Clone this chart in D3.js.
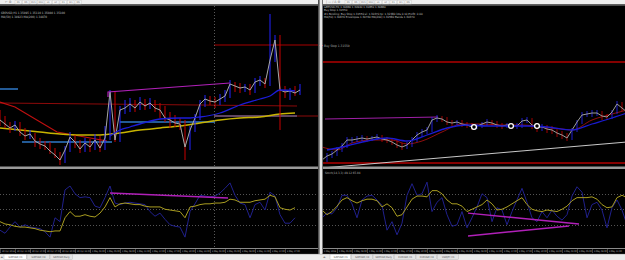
<!DOCTYPE html>
<html>
<head>
<meta charset="utf-8">
<script src="https://cdn.jsdelivr.net/npm/d3@7"></script>
<style>
  body { margin: 0; background: #000; }
  svg { display: block; }
  text { font-family: "DejaVu Sans Condensed", "Liberation Sans Narrow", sans-serif; }
</style>
</head>
<body>
<script>
// prices are in points (1 point = 0.0001)
const leftClose = [13480,13476,13472,13475,13468,13464,13466,13459,13456,13454,13449,13445,13440,13450,13463,13458,13451,13457,13453,13460,
  13452,13462,13508,13460,13490,13492,13496,13492,13498,13494,13497,13492,13490,13482,13480,13477,13476,13453,13470,13482,
  13496,13501,13499,13498,13501,13504,13516,13514,13512,13513,13510,13518,13520,13516,13540,13560,13510,13508,13509,13507,13510];
const leftHigh = [13490,13484,13478,13479,13478,13472,13470,13467,13462,13459,13458,13452,13448,13454,13468,13465,13460,13462,13461,13466,
  13464,13474,13510,13508,13494,13500,13502,13500,13503,13501,13502,13500,13497,13494,13488,13485,13482,13480,13474,13486,
  13500,13505,13504,13503,13506,13510,13520,13518,13517,13516,13516,13522,13524,13522,13586,13565,13565,13514,13512,13514,13516];
const leftLow = [13474,13472,13467,13469,13464,13460,13461,13453,13451,13450,13446,13442,13435,13437,13448,13452,13447,13448,13448,13450,
  13448,13450,13460,13458,13458,13486,13488,13488,13490,13490,13491,13488,13482,13478,13472,13473,13470,13440,13450,13468,
  13480,13493,13495,13492,13495,13498,13502,13508,13507,13508,13505,13507,13514,13512,13514,13538,13470,13502,13500,13504,13505];

const leftSlowMaBars = [0,4,8,12,16,20,24,28,32,36,40,44,48,52,56,59];
const leftSlowMa = [13472,13470,13468,13466,13465,13465,13467,13470,13472,13474,13477,13480,13482,13483,13486,13487];
const leftFastMaBars = [22,24,26,28,32,36,38,40,44,48,52,54,56,59];
const leftFastMa = [13464,13470,13473,13476,13481,13482,13482,13483,13487,13495,13501,13504,13510,13509];

// chart objects: [bar, price] points
const leftRedTrend = [[0,13498],[3,13493],[11.4,13468],[21.4,13459]];
const leftMaroonLine = [[0,13497],[59.4,13494]];
const leftRedLevel = [[42.8,13555],[64,13555]];
const leftMagentaLine = [[21.6,13503],[21.6,13508],[46,13517]];
const leftBlueLevels = [[[0,13511],[3.6,13511]], [[4.4,13458],[22.4,13458]], [[24,13478],[43,13478]]];
const leftPinkLevel = [[42.8,13484],[59.4,13484]];
const leftMaroonLevel = [[59.4,13484],[64,13484]];
const leftCursorBar = 42.8;

const leftOscFast = [23,19,27,34,27,30,27,26,25,21,14,39,34,75,80,70,65,66,65,54,
  52,65,80,58,56,58,59,58,57,56,47,41,45,37,30,28,27,14,47,57,
  68,67,66,67,71,77,84,68,58,56,39,56,59,49,72,67,43,32,32,39];
const leftOscSlow = [34,31,30,28,27,27,26,25,23,22,21,22,22,39,47,41,41,43,41,40,
  45,53,65,53,57,58,57,56,56,54,53,53,53,50,49,48,47,39,53,54,
  56,57,57,58,58,59,63,62,59,59,59,61,62,63,68,66,52,50,49,52];
const leftOscMagenta = [[22,71],[45.6,64.5]];

const rightClose = [13040,13044,13046,13050,13054,13060,13060,13061,13062,13061,13062,13063,13061,13060,13058,13055,13053,13055,13060,13065,
  13068,13070,13080,13082,13081,13078,13077,13078,13076,13075,13073,13074,13076,13078,13077,13075,13074,13075,13074,13074,
  13079,13080,13075,13073,13073,13071,13070,13067,13065,13062,13070,13078,13085,13086,13087,13087,13084,13083,13088,13096,13092,13088];
const rightHigh = [13043,13047,13049,13053,13057,13063,13063,13064,13065,13064,13064,13066,13065,13063,13062,13060,13057,13058,13063,13068,
  13071,13073,13083,13085,13084,13083,13080,13080,13080,13078,13077,13076,13078,13081,13080,13079,13077,13077,13077,13077,
  13082,13083,13082,13077,13076,13075,13074,13072,13069,13067,13072,13080,13088,13089,13090,13090,13089,13086,13090,13099,13098,13094];
const rightLow = [13036,13038,13042,13044,13048,13052,13057,13058,13059,13058,13059,13060,13058,13057,13055,13052,13050,13051,13053,13058,
  13063,13066,13068,13078,13078,13075,13074,13075,13073,13072,13070,13071,13072,13074,13074,13072,13071,13072,13071,13071,
  13072,13077,13071,13068,13069,13067,13066,13063,13061,13059,13060,13068,13076,13083,13083,13084,13080,13080,13081,13086,13089,13085];
const rightFirstOpen = 13038;

const rightBlueMaBars = [1,5,9,13,17,21,25,29,33,37,41,45,50,54,58,61];
const rightBlueMa = [13050,13054,13059,13062,13059,13065,13072,13075,13074,13074,13074,13073,13070,13076,13082,13087];
const rightRedMaBars = [0,3,6,10,14,17,20,24,28,32,36,40,44,48,50,54,58,61];
const rightRedMa = [13053,13050,13057,13060,13060,13056,13059,13068,13076,13076,13075,13075,13073,13071,13070,13080,13086,13090];

const rightMagentaLine = [[0.6,13081],[23.2,13083]];
const rightRedLevels = [[[0,13138],[62,13138]], [[0,13037],[62,13037]]];
const rightGreyTrend = [[0,13032],[61,13058]];
const rightCircleBars = [30.4,37.8,43];
const rightCirclePrices = [13073,13074,13074];

const rightOscFast = [39,45,44,52,68,68,57,39,62,67,68,62,55,23,34,17,32,68,83,68,
  70,85,47,59,65,43,28,30,47,26,39,53,70,65,34,52,49,30,47,62,
  77,59,39,34,47,39,49,41,36,43,67,79,72,39,56,59,49,26,52,62,49,30];
const rightOscSlow = [49,43,47,54,62,65,61,58,61,63,63,61,53,57,52,41,43,53,63,67,
  67,66,74,74,70,62,57,57,54,47,50,53,56,62,57,49,50,53,57,61,
  65,56,50,48,47,49,48,47,50,54,61,65,65,65,66,63,56,52,53,65,68,65];
const rightOscTriangle = [[[29.2,45],[51.4,31]], [[29.2,15.5],[49.4,28.4]]];

const oscLevels = [70, 50, 30];

const leftTimeLabels = ["30 Apr 2018","30 Apr 11:00","30 Apr 14:00","30 Apr 17:00","30 Apr 20:00","30 Apr 23:00","1 May 02:00",
  "1 May 05:00","1 May 08:00","1 May 11:00","1 May 14:00","1 May 17:00","1 May 20:00","1 May 23:00","2 May 02:00",
  "2 May 05:00","2 May 08:00","2 May 11:00","2 May 14:00","2 May 17:00"];
const rightTimeLabels = ["1 May 2018","1 May 05:00","1 May 08:00","1 May 11:00","1 May 14:00","1 May 17:00","1 May 20:00",
  "1 May 23:00","2 May 02:00","2 May 05:00","2 May 08:00","2 May 11:00","2 May 14:00","2 May 17:00","2 May 20:00",
  "2 May 23:00","3 May 02:00","3 May 05:00","3 May 08:00","3 May 11:00"];
const leftTabs = ["GBPUSD,H1","GBPUSD,H4","GBPUSD,Daily"];
const rightTabs = ["GBPUSD,H1","GBPUSD,H4","GBPUSD,Daily","EURUSD,H1","EURUSD,H4","USDJPY,H1"];
const toolbarLabels = ["M1","M5","M15","M30","H1","H4","D1","W1","MN"];
const leftHeader = ["GBPUSD,H1  1.35095 1.35110 1.35080 1.35100", "MA(50) 1.34923  MA(200) 1.34870"];
const rightHeader = ["GBPUSD,H1  1.30880 1.30940 1.30850 1.30880", "Buy Stop 1.31550",
  "#1 Pending: Buy Stop 1.31550 sl: 1.30370 tp: 1.32380 lots 0.10 Profit: 0.00",
  "MA(50) 1.30870  Envelopes 1.30760  MA(200) 1.30580 Bands 1.30370"];
const rightIndHeader = "Stoch(14,3,3) 49.12 65.04";

const W = 625, H = 260;
const svg = d3.select('body').append('svg').attr('width', W).attr('height', H);
svg.append('rect').attr('width', W).attr('height', H).attr('fill', '#000');

// panes
const panes = {
  leftMain: {x: 0, y: 6, w: 318, h: 161},
  leftInd: {x: 0, y: 170, w: 318, h: 78},
  rightMain: {x: 323, y: 6, w: 302, h: 161},
  rightInd: {x: 323, y: 170, w: 302, h: 78}
};
const defs = svg.append('defs');
Object.keys(panes).forEach(function(k) {
  const p = panes[k];
  defs.append('clipPath').attr('id', 'clip-' + k)
    .append('rect').attr('x', p.x).attr('y', p.y).attr('width', p.w).attr('height', p.h);
});
function paneGroup(k) {
  return svg.append('g').attr('clip-path', 'url(#clip-' + k + ')');
}

const leftX = d3.scaleLinear().domain([0, 60]).range([0, 300]);
const rightX = d3.scaleLinear().domain([0, 61]).range([322, 627]);
const leftY = d3.scaleLinear().domain([13435, 13595]).range([165, 5]);
const rightY = d3.scaleLinear().domain([13035, 13195]).range([165, 5]);
const oscY = d3.scaleLinear().domain([0, 100]).range([248, 170.5]);

function pairLine(g, x, y, pts, color, width) {
  g.append('path')
    .attr('d', d3.line().x(d => x(d[0])).y(d => y(d[1]))(pts))
    .attr('fill', 'none').attr('stroke', color).attr('stroke-width', width || 1);
}
function seriesLine(g, x, y, bars, values, color, width, curve) {
  const line = d3.line().x((d, i) => x(bars ? bars[i] : i)).y(d => y(d));
  if (curve) line.curve(curve);
  g.append('path').attr('d', line(values))
    .attr('fill', 'none').attr('stroke', color).attr('stroke-width', width || 1);
}
function drawBars(g, x, y, close, high, low, firstOpen, lineColor, wickWidth) {
  g.selectAll(null).data(close).join('line')
    .attr('x1', (d, i) => x(i)).attr('x2', (d, i) => x(i))
    .attr('y1', (d, i) => y(high[i])).attr('y2', (d, i) => y(low[i]))
    .attr('stroke', (d, i) => d >= (i ? close[i - 1] : firstOpen) ? '#2323ff' : '#c80000')
    .attr('stroke-width', wickWidth);
  seriesLine(g, x, y, null, close, lineColor, 1);
}
function oscGrid(g, x0, x1) {
  g.selectAll(null).data(oscLevels).join('line')
    .attr('x1', x0).attr('x2', x1)
    .attr('y1', d => Math.round(oscY(d)) + 0.5).attr('y2', d => Math.round(oscY(d)) + 0.5)
    .attr('stroke', '#6a6a6a').attr('stroke-dasharray', '1,2').attr('stroke-width', 0.8);
}

// ---- left main pane
const lm = paneGroup('leftMain');
pairLine(lm, leftX, leftY, leftMaroonLine, '#8c0a0a', 1);
pairLine(lm, leftX, leftY, leftRedTrend, '#c01010', 1.2);
pairLine(lm, leftX, leftY, leftRedLevel, '#a80000', 1);
pairLine(lm, leftX, leftY, leftPinkLevel, '#c08ac0', 1);
pairLine(lm, leftX, leftY, leftMaroonLevel, '#8c0a0a', 1);
leftBlueLevels.forEach(l => pairLine(lm, leftX, leftY, l, '#2f78c8', 1.5));
seriesLine(lm, leftX, leftY, leftSlowMaBars, leftSlowMa, '#c8b400', 1.5, d3.curveMonotoneX);
drawBars(lm, leftX, leftY, leftClose, leftHigh, leftLow, 13484, '#a8a8a8', 1);
seriesLine(lm, leftX, leftY, leftFastMaBars, leftFastMa, '#1c1cd8', 1.3, d3.curveMonotoneX);
pairLine(lm, leftX, leftY, leftMagentaLine, '#b020b8', 1.2);

// ---- left indicator pane
const li = paneGroup('leftInd');
oscGrid(li, 0, 318);
seriesLine(li, leftX, oscY, null, leftOscFast, '#20208c', 1);
seriesLine(li, leftX, oscY, null, leftOscSlow, '#a89c20', 1);
pairLine(li, leftX, oscY, leftOscMagenta, '#b020b8', 1.5);

// cursor line through both left panes
svg.append('line')
  .attr('x1', Math.round(leftX(leftCursorBar)) + 0.5).attr('x2', Math.round(leftX(leftCursorBar)) + 0.5)
  .attr('y1', 6).attr('y2', 248)
  .attr('stroke', '#707070').attr('stroke-dasharray', '1,2').attr('stroke-width', 0.8);

// ---- right main pane
const rm = paneGroup('rightMain');
rightRedLevels.forEach(l => pairLine(rm, rightX, rightY, l, '#b00000', 1.5));
pairLine(rm, rightX, rightY, rightGreyTrend, '#c8c8c8', 1);
pairLine(rm, rightX, rightY, rightMagentaLine, '#a020a8', 1);
seriesLine(rm, rightX, rightY, rightRedMaBars, rightRedMa, '#a01010', 0.9, d3.curveMonotoneX);
drawBars(rm, rightX, rightY, rightClose, rightHigh, rightLow, rightFirstOpen, '#9a9a9a', 0.8);
seriesLine(rm, rightX, rightY, rightBlueMaBars, rightBlueMa, '#1a1ad0', 1.3, d3.curveMonotoneX);
rm.selectAll(null).data(rightCircleBars).join('circle')
  .attr('cx', d => rightX(d)).attr('cy', (d, i) => rightY(rightCirclePrices[i]))
  .attr('r', 2.4).attr('fill', '#000').attr('stroke', '#fff').attr('stroke-width', 1.3);

// buy stop marker on the right pane
svg.append('line').attr('x1', 318).attr('x2', 323).attr('y1', 45.5).attr('y2', 45.5)
  .attr('stroke', '#c00000');
svg.append('text').attr('x', 324).attr('y', 46.5).attr('font-size', 3.2).attr('fill', '#b0b0b0')
  .text(rightHeader[1]);

// ---- right indicator pane
const ri = paneGroup('rightInd');
oscGrid(ri, 323, 625);
seriesLine(ri, rightX, oscY, null, rightOscFast, '#20208c', 1);
seriesLine(ri, rightX, oscY, null, rightOscSlow, '#a89c20', 1);
rightOscTriangle.forEach(l => pairLine(ri, rightX, oscY, l, '#b020b8', 1.5));
svg.append('text').attr('x', 325).attr('y', 173.5).attr('font-size', 3).attr('fill', '#b0b0b0')
  .text(rightIndHeader);

// ---- separators between panes
[[0, 318], [323, 625]].forEach(function(r) {
  svg.append('rect').attr('x', r[0]).attr('y', 166.5).attr('width', r[1] - r[0]).attr('height', 2.5)
    .attr('fill', '#9a9a9a');
  svg.append('line').attr('x1', r[0]).attr('x2', r[1]).attr('y1', 248.5).attr('y2', 248.5)
    .attr('stroke', '#8a8a8a');
});

// ---- time axis labels
function timeLabels(x, labels, step, x1) {
  const g = svg.append('g');
  labels.forEach(function(t, i) {
    const px = x(i * step) + 2;
    if (px > x1 - 4) return;
    g.append('line').attr('x1', px - 1.5).attr('x2', px - 1.5).attr('y1', 249).attr('y2', 253)
      .attr('stroke', '#7a7a7a').attr('stroke-width', 0.5);
    g.append('text').attr('x', px).attr('y', 252.4).attr('font-size', 2.3)
      .attr('fill', '#b8b8b8').text(t);
  });
}
timeLabels(leftX, leftTimeLabels, 3, 318);
timeLabels(rightX, rightTimeLabels, 3, 625);

// ---- headers
leftHeader.forEach(function(t, i) {
  svg.append('text').attr('x', 1).attr('y', 14 + i * 3.6).attr('font-size', 3)
    .attr('fill', '#c0c0c0').text(t);
});
[rightHeader[0], rightHeader[1], rightHeader[2], rightHeader[3]].forEach(function(t, i) {
  svg.append('text').attr('x', 324).attr('y', 7.8 + i * 3.5).attr('font-size', 2.9)
    .attr('fill', '#c0c0c0').text(t);
});

// ---- splitter between the two chart windows
svg.append('rect').attr('x', 318).attr('y', 0).attr('width', 1.5).attr('height', 254).attr('fill', '#505050');
svg.append('rect').attr('x', 319.5).attr('y', 0).attr('width', 3).attr('height', 254).attr('fill', '#e6e6e6');

// ---- top toolbar strips
[[0, 318], [323, 625]].forEach(function(r, k) {
  svg.append('rect').attr('x', r[0]).attr('y', 0).attr('width', r[1] - r[0]).attr('height', 4.5)
    .attr('fill', '#efefef');
  svg.append('rect').attr('x', r[0]).attr('y', 4.5).attr('width', r[1] - r[0]).attr('height', 1.5)
    .attr('fill', '#4a4a4a');
  const x0 = k === 0 ? 15 : 345;
  toolbarLabels.forEach(function(t, i) {
    svg.append('rect').attr('x', x0 + i * 7.5).attr('y', 0.5).attr('width', 6.5).attr('height', 3.5)
      .attr('fill', '#f8f8f8').attr('stroke', '#c4c4c4').attr('stroke-width', 0.4);
    svg.append('text').attr('x', x0 + i * 7.5 + 3.25).attr('y', 3.2).attr('font-size', 2.4)
      .attr('text-anchor', 'middle').attr('fill', '#707070').text(t);
  });
});
svg.append('text').attr('x', 5).attr('y', 3.4).attr('font-size', 3.5).attr('fill', '#808080').text('\u2190 \u2699');
svg.append('text').attr('x', 326).attr('y', 3.4).attr('font-size', 3.5).attr('fill', '#808080').text('| \u2014 \u2215 A \u2699');

// ---- bottom tab bar
svg.append('rect').attr('x', 0).attr('y', 254).attr('width', W).attr('height', 6).attr('fill', '#ececec');
svg.append('line').attr('x1', 0).attr('x2', W).attr('y1', 254.25).attr('y2', 254.25).attr('stroke', '#a0a0a0').attr('stroke-width', 0.5);
function tabs(labels, x0, w) {
  labels.forEach(function(t, i) {
    const x = x0 + i * w;
    svg.append('rect').attr('x', x).attr('y', 254.5).attr('width', w - 0.8).attr('height', 4.8)
      .attr('fill', i === 0 ? '#ffffff' : '#e4e4e4').attr('stroke', '#b0b0b0').attr('stroke-width', 0.4);
    svg.append('text').attr('x', x + w / 2).attr('y', 258.2).attr('font-size', 2.6)
      .attr('text-anchor', 'middle').attr('fill', '#505050').text(t);
  });
}
svg.append('text').attr('x', 0.5).attr('y', 258.2).attr('font-size', 3).attr('fill', '#707070').text('\u25c2\u25b8');
tabs(leftTabs, 4, 23);
svg.append('text').attr('x', 323).attr('y', 258.2).attr('font-size', 3).attr('fill', '#707070').text('\u25c2\u25b8');
tabs(rightTabs, 330, 21.5);
</script>
</body>
</html>
